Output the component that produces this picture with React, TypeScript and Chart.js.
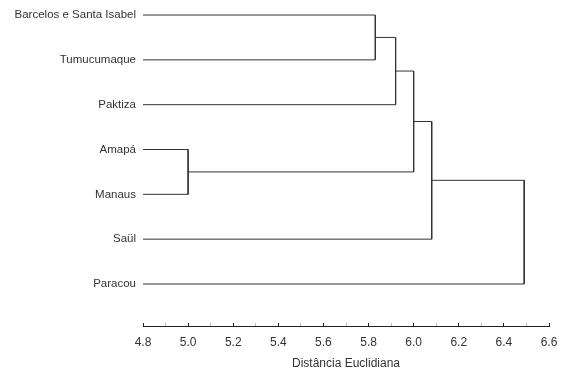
import React, { useEffect, useRef } from "react";
import { Chart, registerables } from "chart.js";

Chart.register(...registerables);

// Leaves of the dendrogram, top to bottom
const leaves = [
  "Barcelos e Santa Isabel",
  "Tumucumaque",
  "Paktiza",
  "Amapá",
  "Manaus",
  "Saül",
  "Paracou",
];

// Merges: node ids 0..6 are leaves, 7.. are merged clusters (in order)
const mergeLeft = [0, 7, 3, 8, 10, 11];
const mergeRight = [1, 2, 4, 9, 5, 6];
const mergeHeight = [5.83, 5.92, 5.0, 6.0, 6.08, 6.49];

// Axis ticks
const xMin = 4.8;
const xMax = 6.6;
const xTicks = [4.8, 4.9, 5.0, 5.1, 5.2, 5.3, 5.4, 5.5, 5.6, 5.7, 5.8, 5.9, 6.0, 6.1, 6.2, 6.3, 6.4, 6.5, 6.6];

const FONT = 'Arial, "Liberation Sans", sans-serif';

function buildSegments() {
  const nodes: { x: number; y: number }[] = leaves.map((_, i) => ({ x: xMin, y: i }));
  const segs: { x: number; y: number }[][] = [];
  mergeHeight.forEach((h, k) => {
    const a = nodes[mergeLeft[k]];
    const b = nodes[mergeRight[k]];
    segs.push([
      { x: a.x, y: a.y },
      { x: h, y: a.y },
      { x: h, y: b.y },
      { x: b.x, y: b.y },
    ]);
    nodes.push({ x: h, y: (a.y + b.y) / 2 });
  });
  return segs;
}

export default function App() {
  const ref = useRef<HTMLCanvasElement>(null);
  useEffect(() => {
    const segs = buildSegments();
    const chart = new Chart(ref.current!, {
      type: "scatter",
      data: {
        datasets: segs.map((s) => ({
          data: s,
          showLine: true,
          borderColor: "#333",
          borderWidth: 1,
          pointRadius: 0,
          tension: 0,
          fill: false,
        })),
      },
      options: {
        animation: false,
        responsive: false,
        maintainAspectRatio: false,
        layout: { padding: { top: 0, right: 15, left: 0, bottom: 0 } },
        plugins: { legend: { display: false }, tooltip: { enabled: false } },
        scales: {
          x: {
            type: "linear",
            min: xMin,
            max: xMax,
            afterBuildTicks: (scale: any) => {
              scale.ticks = xTicks.map((v) => ({ value: v }));
            },
            afterFit: (scale: any) => {
              scale.height = 43;
              scale.paddingLeft = 0;
              scale.paddingRight = 0;
            },
            grid: {
              drawOnChartArea: false,
              drawTicks: true,
              tickLength: -3,
              color: (ctx: any) => (ctx.index % 2 === 0 ? "#222" : "#bbb"),
            },
            border: { display: true, color: "#222", width: 1 },
            ticks: {
              autoSkip: false,
              maxRotation: 0,
              padding: 12,
              color: "#333",
              font: { family: FONT, size: 12 },
              callback: (v: any, i: number) => (i % 2 === 0 ? Number(v).toFixed(1) : ""),
            },
            title: {
              display: true,
              text: "Distância Euclidiana",
              color: "#333",
              font: { family: FONT, size: 12 },
              padding: { top: 7, bottom: -2 },
            },
          },
          y: {
            type: "linear",
            reverse: true,
            min: -0.335,
            max: 6.937,
            afterBuildTicks: (scale: any) => {
              scale.ticks = leaves.map((_, i) => ({ value: i }));
            },
            afterFit: (scale: any) => {
              scale.width = 143;
              scale.paddingTop = 0;
              scale.paddingBottom = 0;
            },
            grid: { display: false, drawTicks: false },
            border: { display: false },
            ticks: {
              padding: 7,
              color: "#333",
              font: { family: FONT, size: 11.5 },
              callback: (v: any) => leaves[Math.round(Number(v))] ?? "",
            },
          },
        },
      },
    });
    return () => chart.destroy();
  }, []);
  return (
    <div style={{ position: "fixed", left: 0, top: 0, width: 564, height: 369, background: "#fff" }}>
      <canvas ref={ref} width={564} height={369} style={{ display: "block" }} />
    </div>
  );
}
